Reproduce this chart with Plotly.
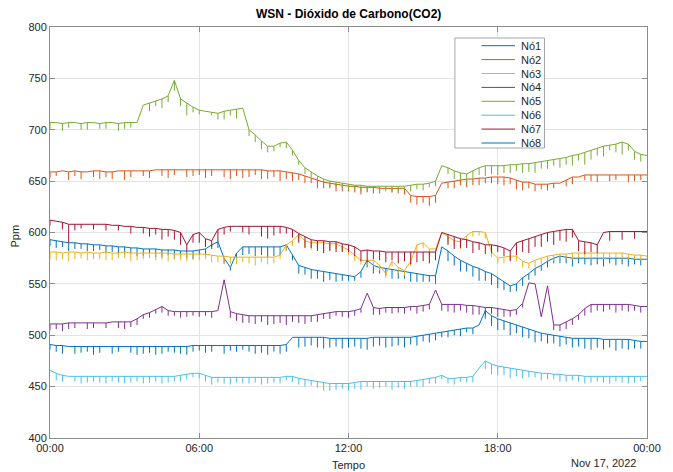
import pandas as pd
import plotly.graph_objects as go

# ---------------- data (15-minute samples, 16 Nov 2022 00:00 -> 17 Nov 2022 00:00) ----------------
times = pd.date_range("2022-11-16 00:00", "2022-11-17 00:00", freq="15min")

names = ["Nó1", "Nó2", "Nó3", "Nó4", "Nó5", "Nó6", "Nó7", "Nó8"]
colors = ["#0072BD", "#D95319", "#EDB120", "#7E2F8E", "#77AC30", "#4DBEEE", "#A2142F", "#0072BD"]

no1 = [593,592,591,590,590,589,589,588,
       588,587,587,586,586,585,585,584,
       584,584,583,583,583,582,582,582,
       583,584,588,591,575,566,580,586,
       586,586,586,586,586,586,588,578,
       568,566,564,563,562,561,560,559,
       558,557,562,573,568,566,565,564,
       563,562,561,560,559,558,558,586,
       582,577,573,570,567,565,562,560,
       556,552,548,550,556,560,565,568,
       572,575,577,576,575,575,575,575,
       575,575,575,575,575,575,574,574,
       574]
no2 = [659,659,660,659,660,659,659,660,
       660,659,659,660,660,660,660,660,
       660,661,661,661,661,661,661,661,
       661,661,661,661,661,661,661,661,
       661,661,661,660,660,660,659,658,
       657,655,653,651,649,648,647,646,
       645,645,644,644,644,643,643,643,
       643,643,636,635,635,635,636,648,
       649,650,651,652,652,653,653,654,
       654,654,653,651,649,649,647,647,
       647,648,648,651,654,654,656,656,
       656,656,656,656,656,656,656,656,
       656]
no3 = [581,581,580,581,581,580,581,580,
       580,581,580,580,581,580,580,580,
       580,580,580,580,579,579,579,579,
       579,579,578,577,577,576,576,576,
       576,576,576,576,576,578,588,592,
       598,592,590,590,590,589,589,586,
       583,578,573,573,573,568,560,572,
       566,563,572,588,590,584,584,600,
       596,592,591,597,601,601,600,581,
       575,576,577,577,572,570,573,575,
       577,578,579,579,580,580,580,580,
       580,580,580,580,580,579,578,578,
       577]
no4 = [511,511,511,512,512,512,512,512,
       512,512,513,513,513,513,516,520,
       522,525,528,524,523,523,523,523,
       523,523,523,524,554,523,521,520,
       519,519,519,519,519,519,519,519,
       519,519,519,520,521,522,523,523,
       523,524,526,541,527,526,527,527,
       527,527,528,528,529,530,544,530,
       530,530,530,529,529,528,527,527,
       526,525,524,525,531,551,550,518,
       548,510,510,513,516,520,526,530,
       530,530,530,530,530,530,529,528,
       528]
no5 = [707,707,706,707,707,706,707,707,
       706,707,707,706,707,707,707,724,
       726,728,730,733,748,730,726,722,
       719,718,717,716,718,719,720,721,
       700,695,689,684,684,687,688,680,
       670,663,659,655,652,650,649,648,
       647,646,646,645,645,645,645,645,
       645,645,646,647,647,648,650,665,
       663,660,658,657,660,663,665,665,
       665,665,666,666,667,667,668,669,
       670,671,672,673,675,676,678,680,
       682,684,685,686,688,686,679,676,
       675]
no6 = [466,463,461,460,460,460,460,460,
       460,460,460,460,460,460,460,460,
       460,460,460,460,460,461,462,463,
       463,461,459,459,459,459,459,459,
       459,459,459,459,459,459,460,460,
       458,457,456,455,454,453,453,453,
       453,454,455,455,455,455,455,455,
       455,455,455,456,457,458,459,461,
       458,458,459,459,460,468,475,472,
       470,469,468,467,466,465,464,463,
       463,462,462,461,461,461,460,460,
       460,460,460,460,460,460,460,460,
       460]
no7 = [612,611,610,608,608,608,608,608,
       608,608,607,607,606,606,605,605,
       604,604,603,603,602,600,588,598,
       600,594,592,603,605,606,606,606,
       606,606,606,606,606,606,605,603,
       599,596,593,592,592,591,591,589,
       588,586,582,583,582,582,581,581,
       581,581,581,581,581,581,581,600,
       598,596,594,593,591,590,588,588,
       587,585,582,590,592,594,596,598,
       600,601,602,603,603,592,591,590,
       588,600,601,601,601,601,601,601,
       601]
no8 = [491,490,490,489,489,489,489,489,
       489,489,489,489,489,489,489,489,
       489,489,489,489,489,489,489,490,
       490,490,490,490,490,490,490,490,
       490,490,490,490,490,490,491,498,
       498,498,498,498,498,497,497,497,
       497,497,497,497,498,498,498,498,
       498,498,498,499,500,501,502,503,
       504,505,506,507,507,510,524,519,
       516,514,512,510,508,506,504,502,
       501,500,499,498,497,497,497,497,
       497,496,496,496,496,496,495,494,
       494]

# downward dips (ppm below the line) seen at each sample
dip1 = [6,7,5,8,6,5,7,6, 5,7,6,8,7,6,8,7, 6,8,7,5,9,6,7,8, 5,7,4,6,5,3,6,8,
        7,9,8,10,9,8,6,5, 8,7,9,8,10,7,8,6, 5,4,6,7,8,6,7,9, 8,7,9,8,7,6,8,0,
        10,9,11,8,10,12,9,11, 10,8,6,7,8,6,7,5, 6,5,7,6,8,5,6,7, 6,8,5,7,6,8,5,6, 0]
dip2 = [6,4,0,8,5,7,0,6, 8,5,7,0,9,6,0,5, 7,0,6,8,5,0,7,6, 5,8,6,0,7,9,6,8,
        7,5,9,8,6,10,7,8, 6,7,5,8,6,5,7,6, 5,6,7,5,6,5,0,4, 5,6,7,8,6,9,7,0,
        6,7,5,8,6,7,5,6, 7,8,6,9,8,6,7,5, 6,5,0,6,7,0,5,6, 7,0,6,5,0,7,6,5, 0]
dip3 = [7,8,6,9,7,5,8,6, 6,8,7,5,6,8,7,6, 5,7,6,8,5,6,7,5, 6,5,7,6,8,6,7,5,
        6,8,5,7,6,4,6,5, 5,6,7,5,8,6,5,4, 5,6,4,5,6,5,4,5, 6,5,4,6,5,7,5,0,
        6,5,7,6,5,4,6,5, 5,6,4,5,6,5,7,6, 5,6,4,5,6,5,4,6, 5,6,4,5,6,5,4,5, 0]
dip4 = [6,5,7,6,5,0,6,5, 0,5,0,6,7,5,6,4, 5,4,6,5,4,6,5,4, 5,4,6,0,0,6,7,8,
        7,8,6,9,8,7,9,6, 7,8,6,7,5,6,4,5, 6,5,4,0,7,6,5,6, 5,6,4,7,6,5,0,6,
        7,8,6,7,9,8,7,6, 8,7,6,5,4,0,0,0, 0,5,6,7,6,5,7,8, 6,7,5,8,6,7,5,6, 0]
dip5 = [6,0,7,5,0,6,7,0, 5,6,0,7,6,5,0,0, 8,5,9,6,10,7,12,5, 4,0,3,6,8,5,9,0,
        6,7,8,6,5,4,6,5, 4,6,5,4,5,6,5,4, 5,4,6,5,4,6,5,6, 5,4,6,5,6,4,5,0,
        6,8,7,9,8,7,10,8, 9,7,8,6,9,8,10,7, 8,6,9,7,10,6,12,9, 7,10,5,8,12,6,8,7, 0]
dip6 = [0,7,6,0,5,7,6,5, 6,7,5,6,7,6,5,7, 6,5,7,6,5,6,5,4, 5,6,7,5,6,7,5,6,
        6,5,7,6,5,6,4,5, 6,7,5,6,8,7,6,5, 7,6,8,5,7,6,5,8, 6,7,5,6,7,5,6,4,
        5,6,4,5,6,0,8,10, 9,8,10,7,8,6,5,7, 6,5,7,6,5,6,7,6, 5,6,7,5,6,7,6,5, 0]
dip7 = [5,0,7,18,6,4,0,5, 0,6,0,5,0,7,0,6, 8,6,10,7,9,12,6,8, 10,8,6,12,7,5,0,6,
        8,0,10,12,9,7,6,8, 9,11,8,10,12,9,10,8, 7,9,10,12,8,9,10,8, 11,9,12,10,9,11,8,0,
        10,12,9,8,11,7,9,8, 6,8,10,12,11,14,10,12, 9,13,10,12,8,10,12,9, 8,0,9,0,8,0,7,0, 0]
dip8 = [5,6,8,0,7,6,5,8, 6,0,7,5,0,6,8,7, 6,8,7,5,6,7,8,6, 5,7,6,0,8,5,6,4,
        6,8,7,9,6,8,7,0, 10,9,8,10,11,9,8,10, 9,8,10,11,9,8,10,9, 8,10,7,9,6,8,7,5,
        6,5,7,4,6,0,8,10, 11,9,12,8,10,9,11,8, 9,8,10,7,9,8,10,11, 9,10,8,11,9,10,8,7, 0]

series = [no1, no2, no3, no4, no5, no6, no7, no8]
dips = [dip1, dip2, dip3, dip4, dip5, dip6, dip7, dip8]

y_ticks = [400, 450, 500, 550, 600, 650, 700, 750, 800]
x_tick_labels = ["00:00", "06:00", "12:00", "18:00", "00:00"]
x_tick_vals = pd.date_range("2022-11-16 00:00", "2022-11-17 00:00", freq="6h")

# ---------------- figure ----------------
FONT = "Liberation Sans, Arial, Helvetica, sans-serif"
TXT = "#262626"
OFF = 8                      # page body margin offset
W, H = 673 - OFF, 472 - OFF  # figure size inside the window
L, T = 50 - OFF, 27 - OFF    # plot area left/top in figure pixels
R = W - (656 - OFF)
B = H - (438 - OFF)

fig = go.Figure()
for name, col, ys, dp in zip(names, colors, series, dips):
    n = min(len(ys), len(dp), len(times))
    fig.add_trace(go.Scatter(
        x=times[:n], y=ys[:n], name=name, mode="lines",
        line=dict(color=col, width=1),
        error_y=dict(type="data", symmetric=False, array=[0] * n,
                     arrayminus=dp[:n], width=0, thickness=1, color=col),
        showlegend=False, hoverinfo="x+y+name",
    ))

pw, ph = W - L - R, H - T - B
def px(x):  # page pixel -> paper fraction
    return (x - OFF - L) / pw
def py(y):
    return (H - B - (y - OFF)) / ph

shapes = []
annotations = []
# custom legend box (MATLAB style)
shapes.append(dict(type="rect", xref="paper", yref="paper",
                   x0=px(461), x1=px(552), y0=py(148), y1=py(38),
                   line=dict(color="#a6a6a6", width=1), fillcolor="white", layer="above"))
for k, (name, col) in enumerate(zip(names, colors)):
    yy = 45.7 + k * 13.9
    shapes.append(dict(type="line", xref="paper", yref="paper",
                       x0=px(488), x1=px(522), y0=py(yy), y1=py(yy),
                       line=dict(color=col, width=1), layer="above"))
    annotations.append(dict(text=name, xref="paper", yref="paper",
                            x=px(526), y=py(yy), xanchor="left", yanchor="middle",
                            showarrow=False, font=dict(family=FONT, size=11, color=TXT)))

annotations.append(dict(text="Tempo", xref="paper", yref="paper", x=0.5, y=py(465),
                        xanchor="center", yanchor="middle", showarrow=False,
                        font=dict(family=FONT, size=11, color=TXT)))
annotations.append(dict(text="Nov 17, 2022", xref="paper", yref="paper", x=px(612), y=py(463),
                        xanchor="center", yanchor="middle", showarrow=False,
                        font=dict(family=FONT, size=11, color=TXT)))
annotations.append(dict(text="Ppm", xref="paper", yref="paper", x=px(14), y=py(236),
                        xanchor="center", yanchor="middle", showarrow=False, textangle=-90,
                        font=dict(family=FONT, size=11, color=TXT)))
annotations.append(dict(text="<b>WSN - Dióxido de Carbono(CO2)</b>", xref="paper", yref="paper",
                        x=0.5, y=py(14), xanchor="center", yanchor="middle", showarrow=False,
                        font=dict(family=FONT, size=12, color="#000000")))

fig.update_layout(
    width=W, height=H, margin=dict(l=L, r=R, t=T, b=B, pad=0),
    paper_bgcolor="white", plot_bgcolor="white",
    font=dict(family=FONT, size=11, color=TXT),
    shapes=shapes, annotations=annotations, showlegend=False,
)
fig.update_xaxes(
    range=[times[0], times[-1]], tickvals=list(x_tick_vals), ticktext=x_tick_labels,
    showgrid=True, gridcolor="#e3e3e3", gridwidth=1, zeroline=False,
    showline=True, linecolor="#8c8c8c", linewidth=1, mirror="ticks",
    ticks="inside", ticklen=5, tickcolor="#8c8c8c",
    tickfont=dict(family=FONT, size=11, color=TXT),
)
fig.update_yaxes(
    range=[400, 800], tickvals=y_ticks, ticktext=[str(v) for v in y_ticks],
    showgrid=True, gridcolor="#e3e3e3", gridwidth=1, zeroline=False,
    showline=True, linecolor="#8c8c8c", linewidth=1, mirror="ticks",
    ticks="inside", ticklen=5, tickcolor="#8c8c8c",
    tickfont=dict(family=FONT, size=11, color=TXT),
)

fig.write_html("out.html")
